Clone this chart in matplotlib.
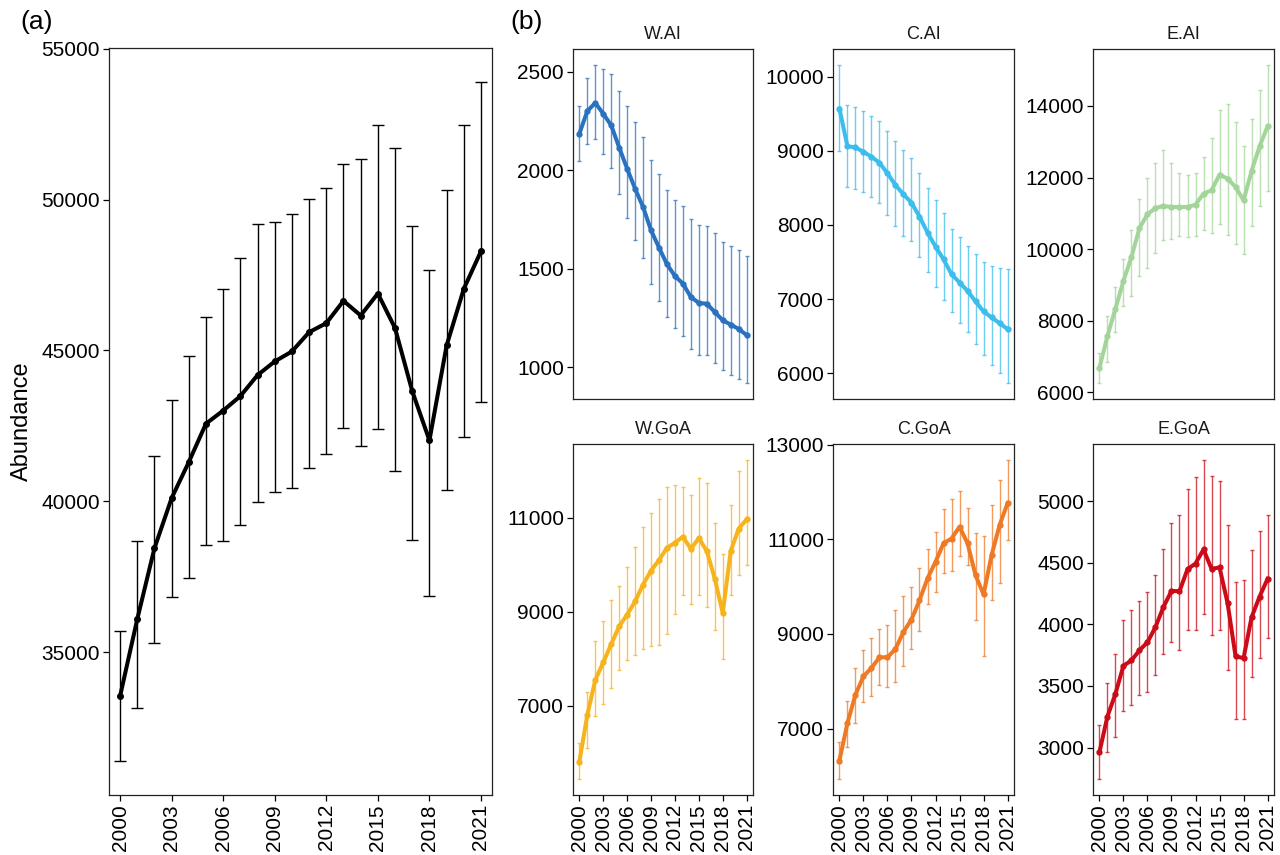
import matplotlib
matplotlib.use("Agg")
import matplotlib.pyplot as plt
import numpy as np

plt.rcParams['font.family'] = ['Liberation Sans', 'DejaVu Sans']

years = list(range(2000, 2022))
xticks = [2000, 2003, 2006, 2009, 2012, 2015, 2018, 2021]

total_mean = [33536, 36088, 38440, 40104, 41301, 42575, 43008, 43487, 44183, 44636, 44967,
              45606, 45904, 46645, 46159, 46887, 45739, 43653, 42020, 45166, 47043, 48288]
total_upper = [35722, 38673, 41500, 43345, 44811, 46103, 47043, 48056, 49182, 49271, 49513,
               50033, 50387, 51182, 51357, 52472, 51698, 49139, 47682, 50309, 52472, 53897]
total_lower = [31397, 33160, 35323, 36830, 37475, 38550, 38683, 39215, 39980, 40323, 40446,
               41101, 41554, 42419, 41820, 42399, 41012, 38706, 36863, 40380, 42133, 43297]

region_names = ["W.AI", "C.AI", "E.AI", "W.GoA", "C.GoA", "E.GoA"]
region_colors = ["#2a72bf", "#3dbdec", "#a3d59a", "#f6b31c", "#ee7a26", "#cc0b18"]

wai_mean = [2187, 2302, 2343, 2288, 2229, 2116, 2009, 1907, 1814, 1696, 1608,
            1523, 1464, 1425, 1357, 1327, 1323, 1281, 1239, 1217, 1195, 1164]
wai_upper = [2327, 2471, 2536, 2515, 2492, 2403, 2327, 2248, 2170, 2055, 1984,
             1901, 1850, 1818, 1752, 1725, 1718, 1684, 1638, 1618, 1598, 1565]
wai_lower = [2048, 2134, 2158, 2084, 2011, 1880, 1758, 1647, 1554, 1425, 1339,
             1254, 1198, 1161, 1091, 1064, 1064, 1024, 985, 963, 943, 920]

cai_mean = [9573, 9065, 9047, 8989, 8921, 8841, 8697, 8539, 8414, 8301, 8113,
            7897, 7708, 7537, 7335, 7223, 7110, 6967, 6832, 6751, 6674, 6594]
cai_upper = [10162, 9627, 9596, 9546, 9470, 9407, 9276, 9133, 9011, 8899, 8697,
             8503, 8342, 8166, 7946, 7843, 7717, 7614, 7506, 7452, 7425, 7402]
cai_lower = [9002, 8512, 8485, 8445, 8382, 8301, 8139, 7987, 7857, 7780, 7574,
             7371, 7169, 6989, 6819, 6670, 6549, 6396, 6248, 6113, 6000, 5865]

eai_mean = [6680, 7574, 8338, 9111, 9781, 10591, 10973, 11150, 11206, 11178, 11178,
            11178, 11243, 11551, 11644, 12082, 11970, 11737, 11364, 12184, 12873, 13432]
eai_upper = [7099, 8142, 8943, 9735, 10545, 11411, 11998, 12408, 12761, 12398, 12128,
             12082, 12128, 12575, 13106, 13879, 14047, 13544, 12882, 13637, 14438, 15146]
eai_lower = [6261, 6838, 7677, 8412, 8692, 9241, 9483, 9902, 10247, 10275, 10359,
             10340, 10359, 10526, 10461, 10694, 10387, 10135, 9856, 10657, 11215, 11616]

wgoa_mean = [5813, 6808, 7554, 7924, 8314, 8691, 8940, 9224, 9579, 9877, 10098,
             10361, 10467, 10595, 10339, 10567, 10290, 9707, 8975, 10290, 10766, 10964]
wgoa_upper = [6204, 7291, 8371, 8805, 9259, 9558, 9956, 10382, 10808, 11107, 11405,
              11661, 11703, 11654, 11490, 11853, 11746, 10893, 10226, 11277, 11995, 12229]
wgoa_lower = [5444, 6097, 6787, 7035, 7376, 7767, 7980, 8080, 8208, 8265, 8286,
              8535, 8955, 9352, 9174, 9359, 9096, 8613, 7995, 9359, 9778, 9998]

cgoa_mean = [6322, 7113, 7714, 8103, 8279, 8505, 8505, 8682, 9042, 9304, 9707,
             10173, 10520, 10915, 11014, 11262, 10915, 10237, 9834, 10661, 11297, 11763]
cgoa_upper = [6717, 7580, 8272, 8668, 8922, 9113, 9198, 9495, 9799, 9989, 10385,
              10788, 11156, 11629, 11848, 12025, 11664, 11134, 11071, 11721, 12258, 12675]
cgoa_lower = [5933, 6619, 7120, 7558, 7679, 7912, 7870, 7982, 8329, 8689, 9064,
              9622, 9883, 10279, 10329, 10647, 10456, 9304, 8541, 9707, 10081, 10979]

egoa_mean = [2962, 3252, 3436, 3664, 3707, 3789, 3854, 3978, 4141, 4271, 4268,
             4447, 4493, 4607, 4450, 4461, 4173, 3740, 3726, 4057, 4225, 4369]
egoa_upper = [3184, 3528, 3759, 4033, 4114, 4187, 4260, 4396, 4612, 4818, 4883,
              5095, 5192, 5333, 5206, 5160, 4808, 4344, 4358, 4599, 4756, 4889]
egoa_lower = [2745, 2962, 3089, 3298, 3347, 3425, 3455, 3588, 3756, 3859, 3794,
              3954, 3957, 4081, 3913, 3957, 3626, 3228, 3230, 3572, 3724, 3892]

region_yticks = [[1000, 1500, 2000, 2500],
                 [6000, 7000, 8000, 9000, 10000],
                 [6000, 8000, 10000, 12000, 14000],
                 [7000, 9000, 11000],
                 [7000, 9000, 11000, 13000],
                 [3000, 3500, 4000, 4500, 5000]]

region_data = [(wai_mean, wai_lower, wai_upper),
               (cai_mean, cai_lower, cai_upper),
               (eai_mean, eai_lower, eai_upper),
               (wgoa_mean, wgoa_lower, wgoa_upper),
               (cgoa_mean, cgoa_lower, cgoa_upper),
               (egoa_mean, egoa_lower, egoa_upper)]

W, H = 1280, 855
fig = plt.figure(figsize=(W / 100, H / 100), dpi=100)


def px_axes(x0, y0, x1, y1):
    return fig.add_axes([x0 / W, 1 - y1 / H, (x1 - x0) / W, (y1 - y0) / H])


def style(ax, fs=15):
    for s in ax.spines.values():
        s.set_linewidth(0.9)
        s.set_color("#222222")
    ax.tick_params(axis="both", direction="out", length=4, width=0.9,
                   labelsize=fs, colors="black", pad=2.5)
    ax.set_xticks(xticks)
    ax.set_xticklabels([str(t) for t in xticks], rotation=90)


# Panel (a)
axa = px_axes(109, 48, 492, 795)
m = np.array(total_mean)
err = [m - np.array(total_lower), np.array(total_upper) - m]
axa.errorbar(years, m, yerr=err, fmt="none", ecolor="black", elinewidth=1.0,
             capsize=4, capthick=1.0, zorder=2)
axa.plot(years, m, color="black", lw=2.9, marker="o", ms=4, zorder=3)
axa.set_xlim(2000 - 0.64, 2021 + 0.64)
axa.set_yticks([35000, 40000, 45000, 50000, 55000])
axa.set_ylim(30272, 55022)
style(axa, 15)
axa.set_ylabel("Abundance", fontsize=17, labelpad=6)
fig.text(20 / W, 1 - 22 / H, "(a)", fontsize=19, ha="left", va="center")
fig.text(510 / W, 1 - 22 / H, "(b)", fontsize=19, ha="left", va="center")

cols = [(573, 753), (833, 1014), (1093, 1274)]
rows = [(49, 399), (444, 795)]

for i, name in enumerate(region_names):
    r, c = divmod(i, 3)
    ax = px_axes(cols[c][0], rows[r][0], cols[c][1], rows[r][1])
    mean, lo, up = region_data[i]
    mm = np.array(mean)
    e = [mm - np.array(lo), np.array(up) - mm]
    col = region_colors[i]
    ax.errorbar(years, mm, yerr=e, fmt="none", ecolor=col, alpha=0.75,
                elinewidth=1.0, capsize=1.2, capthick=1.0, zorder=2)
    ax.plot(years, mm, color=col, lw=2.9, marker="o", ms=3.5, zorder=3)
    lo_all = min(lo)
    hi_all = max(up)
    rng = hi_all - lo_all
    ax.set_ylim(lo_all - 0.05 * rng, hi_all + 0.05 * rng)
    ax.set_xlim(2000 - 0.8, 2021 + 0.8)
    ax.set_yticks(region_yticks[i])
    style(ax, 15)
    ax.set_title(name, fontsize=13, pad=7, color="#1a1a1a")
    if r == 0:
        ax.set_xticks([])

fig.savefig("out.png", dpi=100)
